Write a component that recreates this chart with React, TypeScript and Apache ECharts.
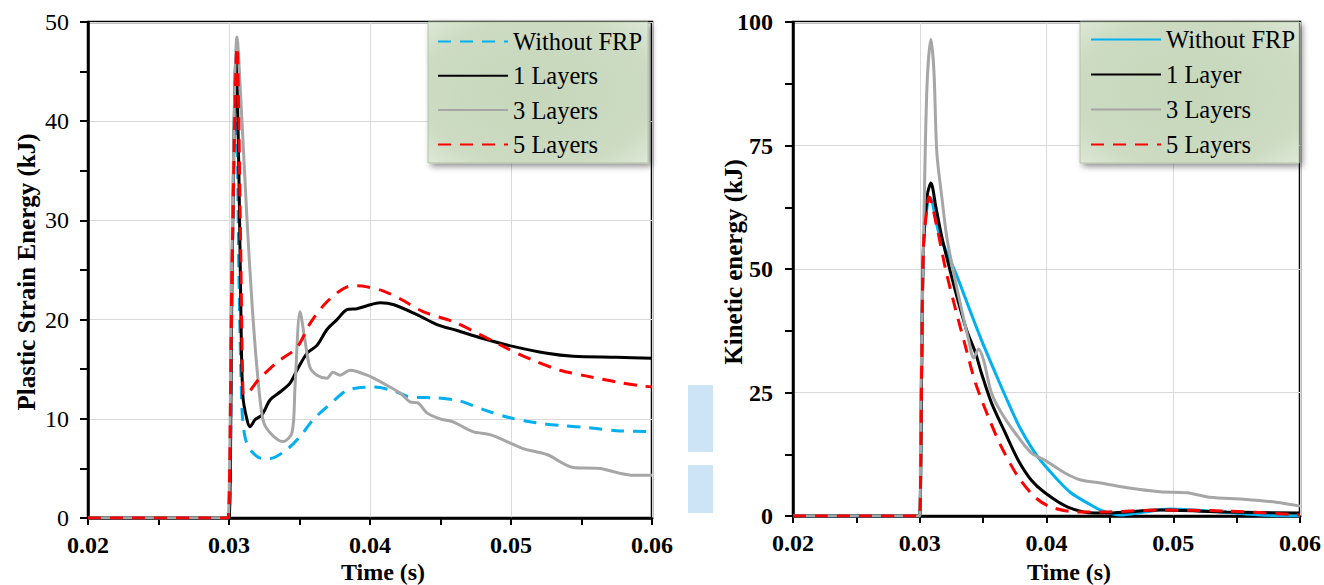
import React, { useEffect, useRef } from "react";
import * as echarts from "echarts";

const FONT = "'Liberation Serif', 'Times New Roman', Times, serif";

// Shared time axis (s)
const TIME_MIN = 0.02;
const TIME_MAX = 0.06;
const TIME_STEP = 0.01;

// Plastic strain energy (kJ): [time (s), energy]
const plasticWithoutFrp: [number, number][] = [
  [0.02, 0], [0.0298, 0], [0.0300, 0], [0.03022, 24], [0.0305, 45], [0.0307, 25], [0.03092, 11],
  [0.03113, 8.2], [0.03149, 6.9], [0.03234, 6.0], [0.0329, 6.0], [0.0341, 6.9],
  [0.03504, 8.2], [0.03596, 9.9], [0.03695, 11.2], [0.03837, 12.9], [0.03908, 13.1],
  [0.04028, 13.2], [0.0417, 12.8], [0.04284, 12.2], [0.04475, 12.1], [0.04638, 11.8],
  [0.04809, 10.9], [0.04993, 10.1], [0.05177, 9.6], [0.05369, 9.3], [0.05553, 9.1],
  [0.05745, 8.8], [0.06, 8.7],
];
const plastic1Layer: [number, number][] = [
  [0.02, 0], [0.0298, 0], [0.0300, 0], [0.03022, 25], [0.0305, 46.5], [0.0307, 35], [0.03085, 20],
  [0.03099, 12.2], [0.03128, 9.9], [0.03149, 9.2], [0.03184, 9.9], [0.03234, 10.4],
  [0.03291, 11.9], [0.03362, 12.7], [0.03433, 13.6], [0.03482, 14.9], [0.03553, 16.6],
  [0.03624, 17.4], [0.03695, 19.0], [0.03766, 20.0], [0.03837, 21.0], [0.03908, 21.1],
  [0.03979, 21.4], [0.04071, 21.7], [0.0417, 21.5], [0.04333, 20.5], [0.04475, 19.5],
  [0.04617, 18.9], [0.04801, 18.1], [0.05014, 17.3], [0.05255, 16.6], [0.0544, 16.3],
  [0.05752, 16.2], [0.06, 16.1],
];
const plastic3Layers: [number, number][] = [
  [0.02, 0], [0.0297, 0], [0.02993, 0], [0.03021, 26.7], [0.03057, 48.5], [0.03092, 40], [0.03128, 30],
  [0.03163, 21.7], [0.03199, 15], [0.03241, 9.9], [0.03291, 8.6], [0.03383, 7.7],
  [0.03447, 8.6], [0.03468, 13.2], [0.03504, 20.8], [0.03539, 17.9], [0.03574, 15.2],
  [0.03624, 14.4], [0.03695, 14.1], [0.03738, 14.7], [0.03787, 14.4], [0.03858, 14.9],
  [0.03979, 14.4], [0.04092, 13.6], [0.04213, 12.6], [0.04284, 11.7], [0.0434, 11.6],
  [0.04404, 10.6], [0.04496, 10.0], [0.04589, 9.7], [0.0473, 8.7], [0.04851, 8.4],
  [0.04972, 7.7], [0.05085, 7.0], [0.05255, 6.4], [0.0544, 5.1], [0.05631, 5.0],
  [0.05773, 4.5], [0.05865, 4.3], [0.06, 4.3],
];
const plastic5Layers: [number, number][] = [
  [0.02, 0], [0.0297, 0], [0.02993, 0], [0.03021, 25], [0.03057, 47.5], [0.0308, 30], [0.03099, 12.6],
  [0.03113, 12.4], [0.03206, 13.9], [0.03341, 15.7], [0.03482, 17.2], [0.03574, 19.6],
  [0.03695, 21.8], [0.03837, 23.3], [0.03908, 23.4], [0.03979, 23.3], [0.04092, 22.9],
  [0.04213, 22.1], [0.04376, 20.8], [0.04589, 19.8], [0.0478, 18.5], [0.04972, 17.1],
  [0.05156, 15.9], [0.05348, 14.9], [0.05539, 14.3], [0.05752, 13.7], [0.05936, 13.3],
  [0.06, 13.2],
];

// Kinetic energy (kJ): [time (s), energy]
const kineticWithoutFrp: [number, number][] = [
  [0.02, 0], [0.0299, 0], [0.0300, 0], [0.03015, 30], [0.0303, 55], [0.0306, 63], [0.0308, 64.5],
  [0.03151, 57.3], [0.03284, 49.2], [0.03386, 42.3], [0.03487, 35.6], [0.03597, 28.9],
  [0.03699, 22.9], [0.038, 17.4], [0.03933, 11.9], [0.04067, 7.9], [0.04192, 4.7],
  [0.04325, 2.6], [0.04427, 1.2], [0.04583, 0.2], [0.04771, 0.8], [0.04975, 1.4],
  [0.05288, 1.0], [0.05679, 0.2], [0.06, 0],
];
const kinetic1Layer: [number, number][] = [
  [0.02, 0], [0.0299, 0], [0.0300, 0], [0.03015, 30], [0.0303, 55], [0.0306, 65], [0.03088, 67.4],
  [0.03127, 62.6], [0.03174, 56.5], [0.03244, 49.2], [0.03307, 43.1], [0.0337, 37.6],
  [0.0344, 33.0], [0.03487, 28.9], [0.03566, 22.9], [0.03675, 16.8], [0.03777, 11.3],
  [0.03879, 7.3], [0.03988, 4.7], [0.04168, 1.8], [0.04379, 0.6], [0.0448, 0.6],
  [0.04896, 1.2], [0.05421, 0.8], [0.06, 0.6],
];
const kinetic3Layers: [number, number][] = [
  [0.02, 0], [0.0299, 0], [0.0300, 0], [0.0301, 26], [0.03033, 60], [0.03057, 86.9], [0.03088, 96.5],
  [0.03112, 90], [0.03135, 73.5], [0.03174, 64.6], [0.03213, 56.5], [0.03268, 49.2],
  [0.03331, 41.7], [0.03386, 35.6], [0.03425, 32.0], [0.03464, 33.8], [0.03503, 31.6],
  [0.03566, 24.9], [0.03644, 20.9], [0.03753, 16.8], [0.03879, 12.8], [0.03988, 11.3],
  [0.04145, 8.7], [0.0427, 7.3], [0.04427, 6.7], [0.04638, 5.7], [0.04896, 4.9],
  [0.05108, 4.7], [0.05288, 3.8], [0.05554, 3.4], [0.05812, 2.8], [0.06, 2.0],
];
const kinetic5Layers: [number, number][] = [
  [0.02, 0], [0.0299, 0], [0.0300, 0], [0.03015, 30], [0.0303, 55], [0.0306, 63], [0.03073, 64.6],
  [0.03135, 58.5], [0.03205, 49.8], [0.03284, 41.7], [0.03362, 34.2], [0.0344, 26.9],
  [0.03542, 20.0], [0.03644, 14.0], [0.03777, 7.9], [0.0391, 3.8], [0.04035, 1.8],
  [0.04245, 0.8], [0.04427, 0.8], [0.04896, 1.2], [0.05421, 1.0], [0.06, 0.2],
];

const plasticNames = ["Without FRP", "1 Layers", "3 Layers", "5 Layers"];
const kineticNames = ["Without FRP", "1 Layer", "3 Layers", "5 Layers"];

const BLUE = "#00b0f0";
const BLACK = "#000000";
const GRAY = "#a6a6a6";
const RED = "#ff0000";
const DASH = [13, 9];

function lineSeries(name: string, data: [number, number][], color: string, dashed: boolean, z: number) {
  return {
    type: "line",
    name,
    data,
    symbol: "none",
    smooth: 0.3,
    silent: true,
    z,
    itemStyle: { color },
    lineStyle: { color, width: 3, type: dashed ? DASH : "solid", cap: "butt" },
  };
}

function timeAxis() {
  return {
    type: "value",
    min: TIME_MIN,
    max: TIME_MAX,
    interval: TIME_STEP,
    axisLine: { show: true, onZero: false, lineStyle: { color: "#000", width: 2.5 } },
    axisTick: { show: true, length: 7, lineStyle: { color: "#000", width: 2 } },
    minorTick: { show: true, splitNumber: 2, length: 7, lineStyle: { color: "#000", width: 2 } },
    axisLabel: {
      formatter: (v: number) => v.toFixed(2),
      fontFamily: FONT,
      fontSize: 24,
      fontWeight: "bold",
      color: "#000",
      margin: 15,
    },
    splitLine: { show: true, lineStyle: { color: "#d9d9d9", width: 1 } },
  };
}

function energyAxis(max: number, step: number, bold: boolean, margin: number) {
  return {
    type: "value",
    min: 0,
    max,
    interval: step,
    axisLine: { show: true, lineStyle: { color: "#000", width: 2.5 } },
    axisTick: { show: true, length: 8, lineStyle: { color: "#000", width: 2 } },
    minorTick: { show: true, splitNumber: 2, length: 8, lineStyle: { color: "#000", width: 2 } },
    axisLabel: {
      fontFamily: FONT,
      fontSize: 24,
      fontWeight: bold ? "bold" : "normal",
      color: "#000",
      margin,
    },
    splitLine: { show: true, lineStyle: { color: "#d9d9d9", width: 1 } },
  };
}

function legendBox(left: number, padding: number[], itemGap: number, textGap: number) {
  return {
    orient: "vertical",
    left,
    top: 22,
    itemWidth: 70,
    itemHeight: 14,
    itemGap,
    itemTextGap: textGap,
    padding,
    backgroundColor: new echarts.graphic.RadialGradient(0.5, 0.5, 0.75, [
      { offset: 0, color: "#c6d7bb" },
      { offset: 0.7, color: "#ccdbc2" },
      { offset: 1, color: "#e2ebdc" },
    ]),
    borderColor: "#b3c4a8",
    borderWidth: 1,
    shadowBlur: 6,
    shadowColor: "rgba(0,0,0,0.45)",
    shadowOffsetX: 3,
    shadowOffsetY: 3,
    // keep only the line sample in each legend icon
    itemStyle: { color: "rgba(0,0,0,0)", borderColor: "rgba(0,0,0,0)", borderWidth: 0, opacity: 0 },
    textStyle: { fontFamily: FONT, fontSize: 24.5, color: "#000", lineHeight: 24 },
    selectedMode: false,
  };
}

function axisTitle(text: string, x: number, y: number, vertical: boolean, size: number) {
  return {
    type: "text",
    x,
    y,
    rotation: vertical ? Math.PI / 2 : 0,
    silent: true,
    style: {
      text,
      fill: "#000",
      font: `bold ${size}px ${FONT}`,
      align: "center",
      verticalAlign: "middle",
    },
  };
}

const plasticOption = {
  animation: false,
  grid: { left: 88, right: 28, top: 22, bottom: 67, show: true, borderColor: "#000", borderWidth: 2.5 },
  xAxis: timeAxis(),
  yAxis: energyAxis(50, 10, false, 19),
  legend: { ...legendBox(428, [7, 6, 6, 9], 9.3, 7), data: plasticNames },
  graphic: [
    axisTitle("Plastic Strain Energy (kJ)", 26, 272, true, 25),
    axisTitle("Time (s)", 383, 572, false, 24),
  ],
  series: [
    lineSeries(plasticNames[0], plasticWithoutFrp, BLUE, true, 2),
    lineSeries(plasticNames[1], plastic1Layer, BLACK, false, 3),
    lineSeries(plasticNames[2], plastic3Layers, GRAY, false, 4),
    lineSeries(plasticNames[3], plastic5Layers, RED, true, 5),
  ],
};

const kineticOption = {
  animation: false,
  grid: { left: 113, right: 20, top: 22, bottom: 69, show: true, borderColor: "#000", borderWidth: 2.5 },
  xAxis: timeAxis(),
  yAxis: energyAxis(100, 25, true, 20),
  legend: { ...legendBox(400, [5, 4, 6, 10], 10, 8), data: kineticNames },
  graphic: [
    axisTitle("Kinetic energy (kJ)", 53, 262, true, 25),
    axisTitle("Time (s)", 389, 572, false, 24),
    { type: "rect", silent: true, shape: { x: 8, y: 385, width: 25, height: 67 }, style: { fill: "#cde3f6" } },
    { type: "rect", silent: true, shape: { x: 8, y: 465, width: 25, height: 48 }, style: { fill: "#cde3f6" } },
  ],
  series: [
    lineSeries(kineticNames[0], kineticWithoutFrp, BLUE, false, 2),
    lineSeries(kineticNames[1], kinetic1Layer, BLACK, false, 3),
    lineSeries(kineticNames[2], kinetic3Layers, GRAY, false, 4),
    lineSeries(kineticNames[3], kinetic5Layers, RED, true, 5),
  ],
};

function EChart({ option, left, width }: { option: any; left: number; width: number }) {
  const ref = useRef<HTMLDivElement>(null);
  useEffect(() => {
    if (!ref.current) return;
    const chart = echarts.init(ref.current, undefined, { renderer: "svg" });
    chart.setOption(option);
    return () => chart.dispose();
  }, [option]);
  return <div ref={ref} style={{ position: "absolute", left, top: 0, width, height: 585 }} />;
}

export default function App() {
  return (
    <div style={{ position: "absolute", left: 0, top: 0, width: 1324, height: 585, background: "#fff" }}>
      <EChart option={plasticOption} left={0} width={680} />
      <EChart option={kineticOption} left={680} width={644} />
    </div>
  );
}
